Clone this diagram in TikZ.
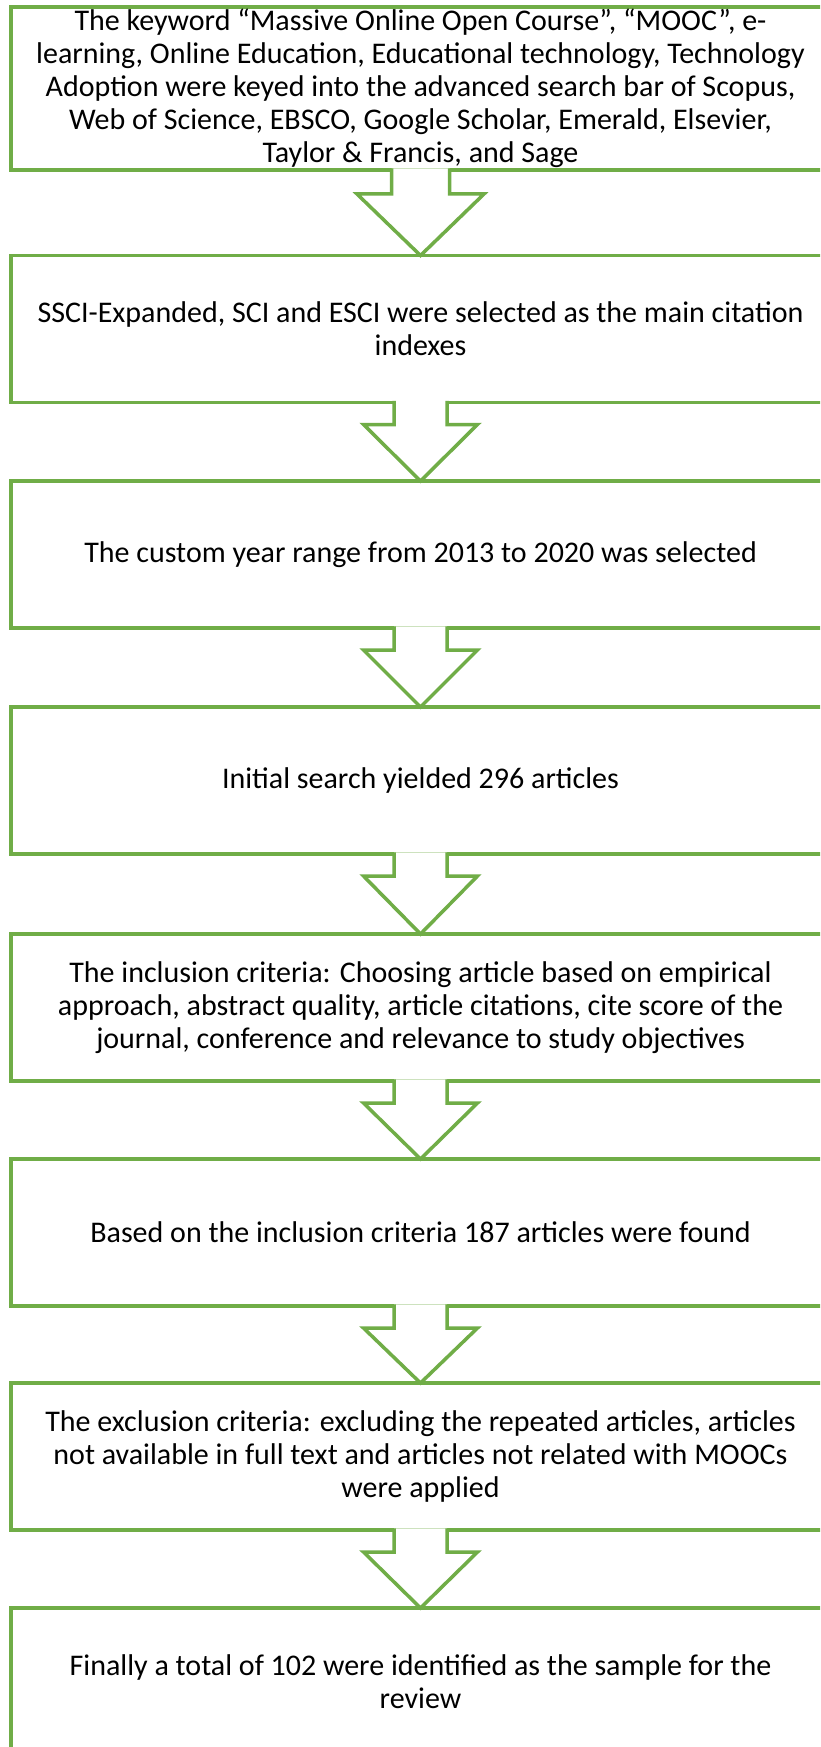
\documentclass[tikz,border=0pt]{standalone}
\usepackage{fontspec}
\setmainfont{Carlito}
\usetikzlibrary{calc}
\definecolor{boxgreen}{RGB}{112,173,71}
\newcommand{\blockarr}[5]{%
  \draw[blockarrow] ($(#1.south)+(-#3,-1.7)$) -- ($(#1.south)+(-#3,#5)$) -- ($(#1.south)+(-#4,#5)$) -- (#2.north) -- ($(#1.south)+(#4,#5)$) -- ($(#1.south)+(#3,#5)$) -- ($(#1.south)+(#3,-1.7)$);%
}
\begin{document}
\begin{tikzpicture}[x=1pt,y=-1pt,
  stepbox/.style={draw=boxgreen, line width=3.5pt, minimum width=819pt, minimum height=147pt,
    inner sep=0pt, outer sep=0pt, align=center, font=\fontsize{30}{33}\selectfont, text=black},
  blockarrow/.style={draw=boxgreen, line width=3.5pt, fill=white, line join=miter}]
\useasboundingbox (0,0) rectangle (820,1747);
\clip (0,0) rectangle (820,1747);
\fill[white] (0,0) rectangle (820,1747);

\node[stepbox, minimum height=163pt] (b1) at (420.5,88.5) {The keyword “Massive Online Open Course”, “MOOC”, e-\\learning, Online Education, Educational technology, Technology\\Adoption were keyed into the advanced search bar of Scopus,\\Web of Science, EBSCO, Google Scholar, Emerald, Elsevier,\\Taylor \& Francis, and Sage};
\node[stepbox] (b2) at (420.5,329) {SSCI-Expanded, SCI and ESCI were selected as the main citation\\indexes};
\node[stepbox] (b3) at (420.5,554.5) {The custom year range from 2013 to 2020 was selected};
\node[stepbox] (b4) at (420.5,780.5) {Initial search yielded 296 articles};
\node[stepbox] (b5) at (420.5,1007.5) {The inclusion criteria: Choosing article based on empirical\\approach, abstract quality, article citations, cite score of the\\journal, conference and relevance to study objectives};
\node[stepbox] (b6) at (420.5,1232.5) {Based on the inclusion criteria 187 articles were found};
\node[stepbox] (b7) at (420.5,1456.5) {The exclusion criteria: excluding the repeated articles, articles\\not available in full text and articles not related with MOOCs\\were applied};
\node[stepbox] (b8) at (420.5,1681.5) {Finally a total of 102 were identified as the sample for the\\review};

\blockarr{b1}{b2}{29}{63.5}{24}
\blockarr{b2}{b3}{26.5}{57}{22}
\blockarr{b3}{b4}{26.5}{57}{22}
\blockarr{b4}{b5}{26.5}{57}{22}
\blockarr{b5}{b6}{26.5}{57}{22}
\blockarr{b6}{b7}{26.5}{57}{22}
\blockarr{b7}{b8}{26.5}{57}{22}
\end{tikzpicture}
\end{document}
